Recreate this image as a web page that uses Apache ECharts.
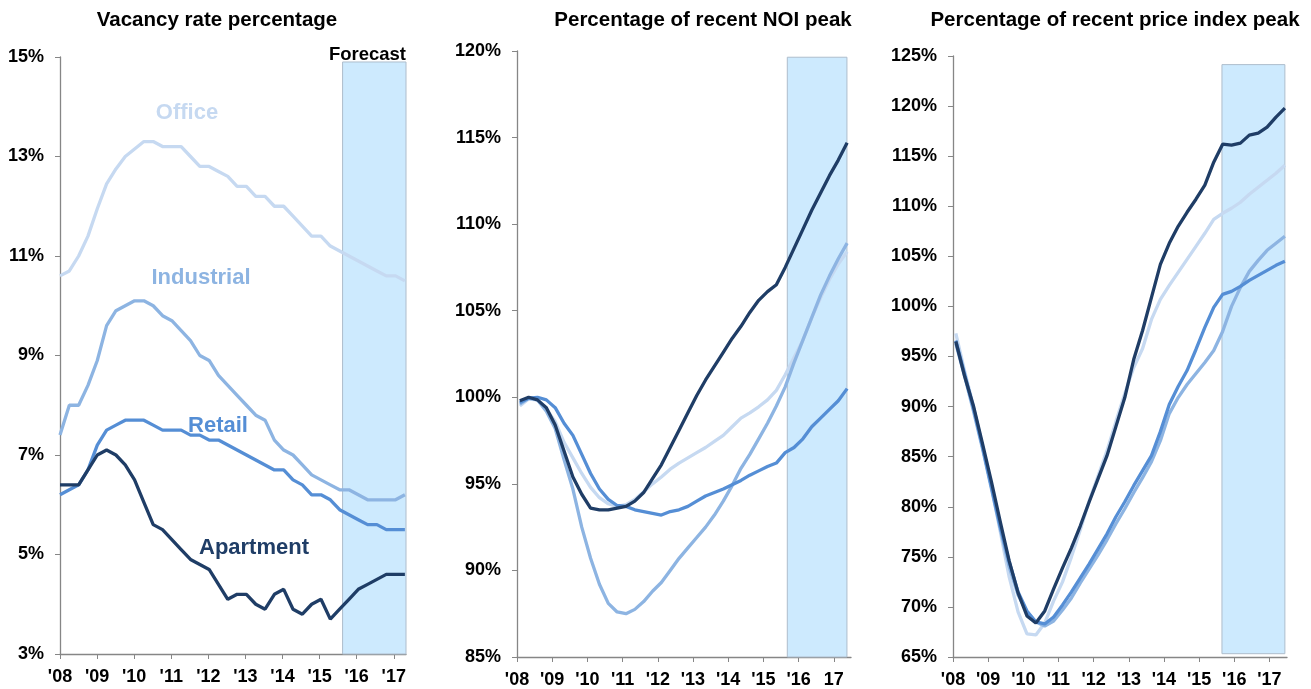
<!DOCTYPE html>
<html>
<head>
<meta charset="utf-8">
<script src="https://cdn.jsdelivr.net/npm/echarts@6/dist/echarts.min.js"></script>
<style>
html,body{margin:0;padding:0;background:#fff;}
#chart{width:1311px;height:689px;}
</style>
</head>
<body>
<div id="chart"></div>
<script>
// ---------- DATA ----------
var yearTicks = [2008, 2009, 2010, 2011, 2012, 2013, 2014, 2015, 2016, 2017];
var xLabelsA = ["'08", "'09", "'10", "'11", "'12", "'13", "'14", "'15", "'16", "'17"];
var xLabelsB = ["'08", "'09", "'10", "'11", "'12", "'13", "'14", "'15", "'16", "17"];

var panelTitles = ["Vacancy rate percentage", "Percentage of recent NOI peak", "Percentage of recent price index peak"];
var seriesNames = ["Office", "Industrial", "Retail", "Apartment"];

// Panel 1: vacancy rate (%), quarterly 2008Q1 - 2017Q2
var vacOffice = [10.6, 10.7, 11.0, 11.4, 11.95, 12.45, 12.75, 13.0, 13.15, 13.3, 13.3, 13.2, 13.2, 13.2, 13.0, 12.8, 12.8, 12.7, 12.6, 12.4, 12.4, 12.2, 12.2, 12.0, 12.0, 11.8, 11.6, 11.4, 11.4, 11.2, 11.1, 11.0, 10.9, 10.8, 10.7, 10.6, 10.6, 10.5];
var vacIndustrial = [7.4, 8.0, 8.0, 8.4, 8.9, 9.6, 9.9, 10.0, 10.1, 10.1, 10.0, 9.8, 9.7, 9.5, 9.3, 9.0, 8.9, 8.6, 8.4, 8.2, 8.0, 7.8, 7.7, 7.3, 7.1, 7.0, 6.8, 6.6, 6.5, 6.4, 6.3, 6.3, 6.2, 6.1, 6.1, 6.1, 6.1, 6.2];
var vacRetail = [6.2, 6.3, 6.4, 6.7, 7.2, 7.5, 7.6, 7.7, 7.7, 7.7, 7.6, 7.5, 7.5, 7.5, 7.4, 7.4, 7.3, 7.3, 7.2, 7.1, 7.0, 6.9, 6.8, 6.7, 6.7, 6.5, 6.4, 6.2, 6.2, 6.1, 5.9, 5.8, 5.7, 5.6, 5.6, 5.5, 5.5, 5.5];
var vacApartment = [6.4, 6.4, 6.4, 6.7, 7.0, 7.1, 7.0, 6.8, 6.5, 6.05, 5.6, 5.5, 5.3, 5.1, 4.9, 4.8, 4.7, 4.4, 4.1, 4.2, 4.2, 4.0, 3.9, 4.2, 4.3, 3.9, 3.8, 4.0, 4.1, 3.7, 3.9, 4.1, 4.3, 4.4, 4.5, 4.6, 4.6, 4.6];

// Panel 2: % of recent NOI peak
var noiOffice = [99.5, 99.9, 99.85, 99.3, 98.6, 97.4, 96.5, 95.6, 94.8, 94.2, 93.85, 93.7, 93.8, 94.1, 94.55, 95.0, 95.4, 95.85, 96.2, 96.5, 96.8, 97.1, 97.45, 97.8, 98.3, 98.8, 99.1, 99.45, 99.85, 100.4, 101.3, 102.3, 103.3, 104.6, 105.75, 106.8, 107.7, 108.4];
var noiIndustrial = [99.6, 99.95, 99.85, 99.2, 98.2, 96.4, 94.7, 92.5, 90.7, 89.2, 88.1, 87.6, 87.5, 87.75, 88.2, 88.8, 89.3, 90.0, 90.7, 91.3, 91.9, 92.5, 93.2, 94.0, 94.9, 95.9, 96.7, 97.6, 98.5, 99.5, 100.6, 102.0, 103.3, 104.6, 105.9, 107.0, 108.0, 108.9];
var noiRetail = [99.7, 99.95, 100.0, 99.85, 99.4, 98.5, 97.8, 96.7, 95.6, 94.7, 94.1, 93.75, 93.7, 93.5, 93.4, 93.3, 93.2, 93.4, 93.5, 93.7, 94.0, 94.3, 94.5, 94.7, 94.95, 95.2, 95.5, 95.75, 96.0, 96.2, 96.8, 97.1, 97.6, 98.3, 98.8, 99.3, 99.8, 100.5];
var noiApartment = [99.8, 100.0, 99.85, 99.4, 98.4, 96.9, 95.4, 94.4, 93.6, 93.5, 93.5, 93.6, 93.7, 94.0, 94.5, 95.3, 96.1, 97.1, 98.1, 99.1, 100.1, 101.0, 101.8, 102.6, 103.4, 104.1, 104.9, 105.6, 106.1, 106.5, 107.5, 108.6, 109.7, 110.8, 111.8, 112.8, 113.7, 114.7];

// Panel 3: % of recent price index peak
var cppiOffice = [97.3, 93.5, 90.0, 86.0, 82.0, 77.5, 73.0, 69.5, 67.3, 67.2, 68.4, 70.6, 72.5, 75.0, 77.7, 80.6, 83.1, 85.6, 88.5, 91.3, 93.9, 95.8, 98.7, 100.7, 102.1, 103.4, 104.7, 106.0, 107.3, 108.7, 109.3, 109.8, 110.4, 111.2, 111.9, 112.6, 113.3, 114.1];
var cppiIndustrial = [96.3, 93.0, 89.5, 85.8, 81.8, 77.8, 74.0, 71.2, 69.5, 68.5, 68.1, 68.6, 69.7, 70.9, 72.4, 73.8, 75.2, 76.7, 78.3, 79.8, 81.4, 82.9, 84.5, 86.6, 89.3, 90.9, 92.2, 93.3, 94.4, 95.6, 97.5, 100.0, 101.9, 103.5, 104.6, 105.6, 106.3, 107.0];
var cppiRetail = [96.6, 93.2, 89.8, 86.0, 82.0, 78.0, 74.5, 71.5, 69.6, 68.5, 68.3, 69.0, 70.2, 71.5, 72.9, 74.3, 75.8, 77.3, 79.0, 80.5, 82.1, 83.6, 85.1, 87.5, 90.2, 92.0, 93.6, 95.7, 97.9, 99.9, 101.2, 101.5, 102.0, 102.6, 103.1, 103.6, 104.1, 104.5];
var cppiApartment = [96.5, 93.0, 90.0, 86.3, 82.5, 78.5, 74.6, 71.4, 69.1, 68.4, 69.6, 71.8, 73.9, 75.9, 78.1, 80.5, 82.8, 85.1, 88.0, 90.9, 94.7, 97.6, 100.9, 104.2, 106.3, 108.0, 109.4, 110.7, 112.1, 114.4, 116.2, 116.1, 116.3, 117.1, 117.3, 117.9, 118.9, 119.8];

// ---------- STYLE / LAYOUT ----------
var colors = { Office: '#c6d9f1', Industrial: '#8db4e2', Retail: '#558ed5', Apartment: '#1f3d66' };
var FONT = '"Liberation Sans", Arial, sans-serif';

var panels = [
  { grid: { left: 60, top: 57, width: 346, height: 597 }, xMax: 2017.33, x0: 2008.0, x1: 2017.3,
    yMin: 3, yMax: 15, yInt: 2, labels: xLabelsA,
    data: [vacOffice, vacIndustrial, vacRetail, vacApartment],
    fc: [2015.62, 2017.33, 3, 14.9] },
  { grid: { left: 517, top: 51, width: 334, height: 608 }, xMax: 2017.49, x0: 2008.08, x1: 2017.38,
    yMin: 85, yMax: 120, yInt: 5, labels: xLabelsB,
    data: [noiOffice, noiIndustrial, noiRetail, noiApartment],
    fc: [2015.68, 2017.375, 85, 119.64] },
  { grid: { left: 953, top: 56, width: 334, height: 602 }, xMax: 2017.5, x0: 2008.08, x1: 2017.44,
    yMin: 65, yMax: 125, yInt: 5, labels: xLabelsA,
    data: [cppiOffice, cppiIndustrial, cppiRetail, cppiApartment],
    fc: [2015.65, 2017.44, 65.33, 124.14] }
];

var grids = [], xAxes = [], yAxes = [], series = [];
panels.forEach(function (p, k) {
  grids.push(p.grid);
  xAxes.push({
    type: 'value', gridIndex: k, min: 2008, max: p.xMax, interval: 1,
    splitLine: { show: false },
    axisLine: { lineStyle: { color: '#868686', width: 1.3 } },
    axisTick: { show: true, length: 5, lineStyle: { color: '#868686' }, customValues: yearTicks },
    axisLabel: {
      customValues: yearTicks, margin: 14,
      fontFamily: FONT, fontSize: 18, fontWeight: 'bold', color: '#000',
      formatter: (function (labels) { return function (v) { return labels[yearTicks.indexOf(Math.round(v))] || ''; }; })(p.labels)
    }
  });
  yAxes.push({
    type: 'value', gridIndex: k, min: p.yMin, max: p.yMax, interval: p.yInt,
    splitLine: { show: false },
    axisLine: { show: true, lineStyle: { color: '#868686', width: 1.3 } },
    axisTick: { show: true, length: 5, lineStyle: { color: '#868686' } },
    axisLabel: { fontFamily: FONT, fontSize: 18, fontWeight: 'bold', color: '#000', margin: 16, formatter: '{value}%' }
  });
  // forecast band
  series.push({
    type: 'line', xAxisIndex: k, yAxisIndex: k, data: [], silent: true, z: 1,
    markArea: {
      silent: true,
      itemStyle: { color: '#cdeafe', borderColor: '#aebdcc', borderWidth: 1 },
      data: [[{ coord: [p.fc[0], p.fc[2]] }, { coord: [p.fc[1], p.fc[3]] }]]
    }
  });
  seriesNames.forEach(function (name, j) {
    var vals = p.data[j];
    var n = vals.length;
    series.push({
      name: name, type: 'line', xAxisIndex: k, yAxisIndex: k, z: 3 + j,
      showSymbol: false, symbol: 'none', smooth: false,
      lineStyle: { color: colors[name], width: 3.3 },
      data: vals.map(function (v, i) { return [p.x0 + (p.x1 - p.x0) * i / (n - 1), v]; })
    });
  });
});

function txt(x, y, text, color, size, align) {
  return { type: 'text', x: x, y: y, z: 100,
    style: { text: text, fill: color, font: 'bold ' + size + 'px ' + FONT, textAlign: align || 'center', textVerticalAlign: 'middle' } };
}

var graphics = [
  txt(217, 20, panelTitles[0], '#000', 20.5),
  txt(703, 20, panelTitles[1], '#000', 20.5),
  txt(1115, 20, panelTitles[2], '#000', 20.5),
  txt(406, 55, 'Forecast', '#000', 18.5, 'right'),
  txt(187, 113, 'Office', colors.Office, 22),
  txt(201, 278, 'Industrial', colors.Industrial, 22),
  txt(218, 426, 'Retail', colors.Retail, 22),
  txt(254, 548, 'Apartment', colors.Apartment, 22)
];

var chart = echarts.init(document.getElementById('chart'), null, { renderer: 'canvas' });
chart.setOption({
  animation: false,
  backgroundColor: '#fff',
  grid: grids,
  xAxis: xAxes,
  yAxis: yAxes,
  series: series,
  graphic: graphics
});
</script>
</body>
</html>
